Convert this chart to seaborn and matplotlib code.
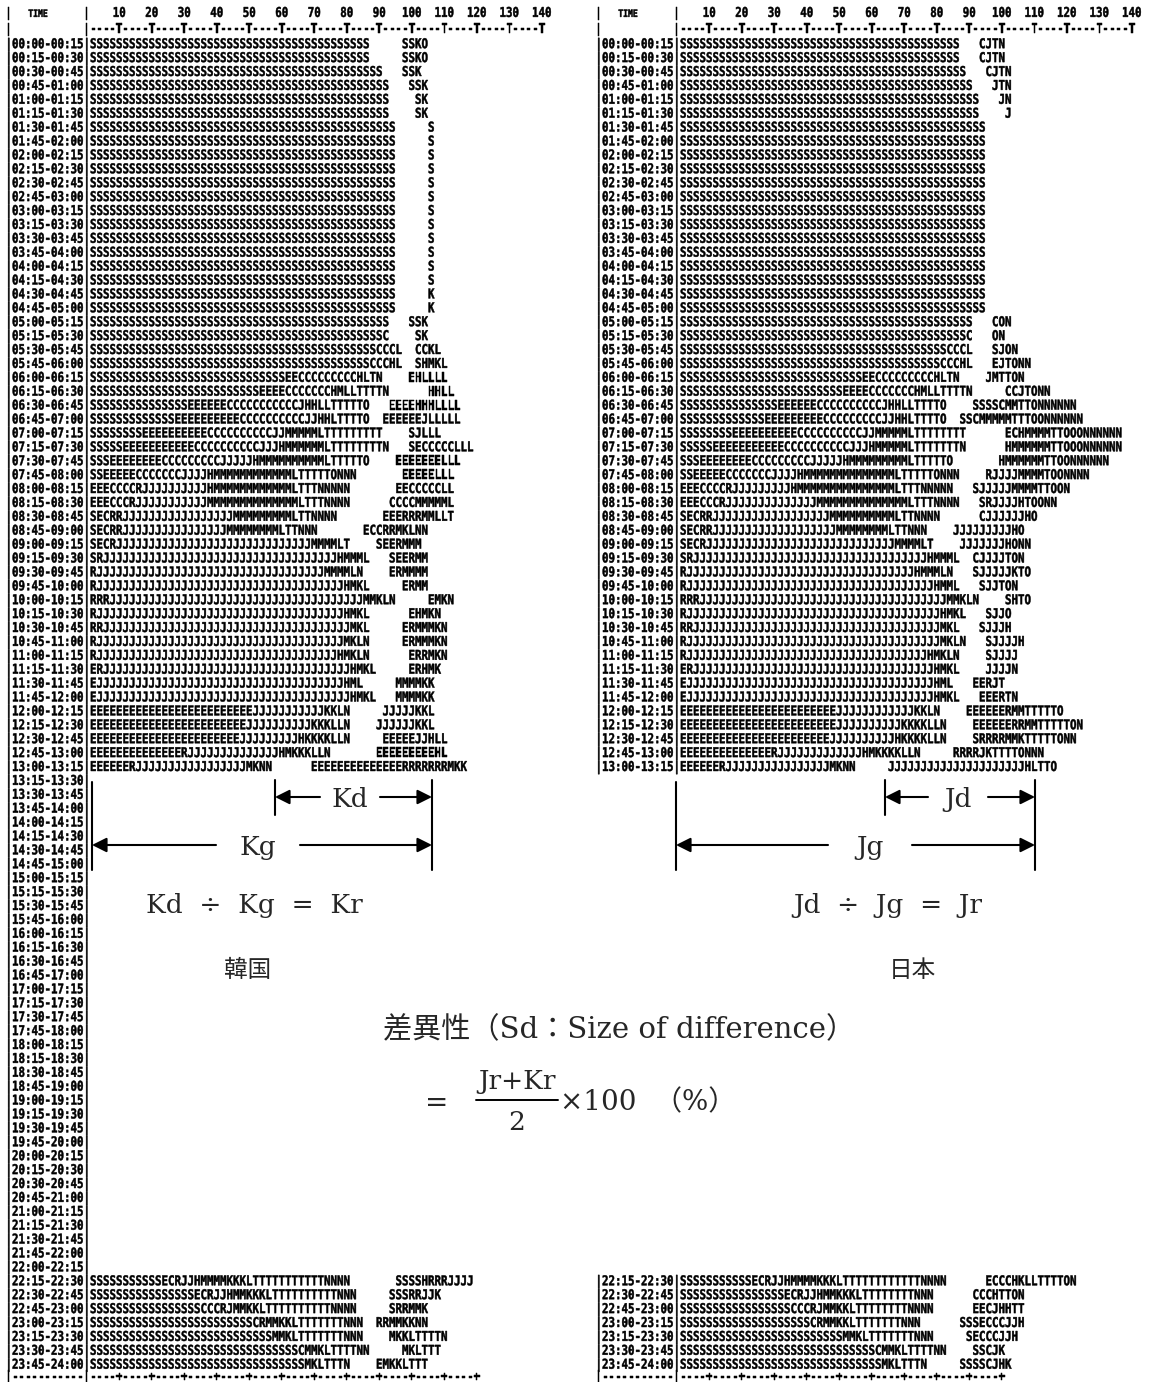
import matplotlib
matplotlib.use("Agg")
import matplotlib.pyplot as plt
import seaborn as sns
from matplotlib.patheffects import AbstractPathEffect
from matplotlib.transforms import Affine2D

# ---------------- data ----------------
# 15-minute time slots of the day
slots = [f"{h:02d}:{m:02d}" for h in range(25) for m in (0, 15, 30, 45)][:97]
time_labels = [f"|{slots[i]}-{slots[i + 1]}|" for i in range(96)]

header_ticks = [10, 20, 30, 40, 50, 60, 70, 80, 90, 100, 110, 120, 130, 140]

# Korea: rows 00:00 .. 13:00 (run-length: "S43" = 43 x S)
k_main = [
    "S43", "S43", "S45", "S46", "S46", "S46",
    "S47", "S47", "S47", "S47", "S47", "S47", "S47", "S47", "S47", "S47", "S47", "S47", "S47", "S47",
    "S46", "S45 C", "S44 CCCL", "S43 CCCHL",
    "S30 EE C9 HLTN", "S26 EEEE C7 HMLLTTTTN", "S15 E6 C11 JHHLL T5 O", "S13 E10 C10 JJHHL T4 O",
    "S8 E10 C10 JJ M5 L T9", "S5 E11 C10 JJJH M6 L T8 N", "SSS E8 C9 J5 H M10 L T5 O", "SS E5 C7 J4 H M12 L T5 ONNN",
    "EEE C4 R J10 H M12 L TTT N5", "EEE CCC R J11 M14 L TTT NNNN", "SECRR J17 M9 L TT NNNN", "SECRR J16 M8 L TT NNN",
    "SECR J30 MMMMLT", "SR J36 HMMML", "R J35 MMMMLN", "R J38 HMKL",
    "RRR J39 MMKLN", "R J38 HMKL", "RR J38 MKL", "R J38 MKLN",
    "R J37 HMKLN", "ER J38 HMKL", "E J38 HML", "E J39 HMKL",
    "E25 J11 KKLN", "E24 J10 KKKLLN", "E23 J9 HKKKKLLN", "E14 R J14 HMKKKLLN",
    "E6 R J17 MKNN",
]
k_extra = [
    "SSKO", "SSKO", "SSK", "SSK", "SK", "SK",
    "S", "S", "S", "S", "S", "S", "S", "S", "S", "S", "S", "S", "K", "K",
    "SSK", "SK", "CCKL", "SHMKL",
    "EHLLLL", "HHLL", "EEEEHHHLLLL", "EEEEEEJLLLLL",
    "SJLLL", "SECCCCCLLL", "EEEEEEELLL", "EEEEELLL",
    "EECCCCCLL", "CCCCMMMMML", "EEERRRMMLLT", "ECCRRMKLNN",
    "SEERMMM", "SEERMM", "ERMMMM", "ERMM",
    "EMKN", "EHMKN", "ERMMMKN", "ERMMMKN",
    "ERRMKN", "ERHMK", "MMMMKK", "MMMMKK",
    "JJJJJKKL", "JJJJJJKKL", "EEEEEJJHLL", "EEEEEEEEEHL",
    "E14 R7 MKK",
]
k_extra_col = [48, 48, 48, 49, 50, 50] + [52] * 14 + [
    49, 50, 50, 50, 49, 52, 46, 45, 49, 49, 47, 48, 47, 46, 45, 42,
    44, 46, 46, 48, 52, 49, 48, 48, 49, 49, 47, 47, 45, 44, 45, 44, 34]

# Korea: rows 22:15 .. 23:45
k_late_main = ["S11 ECRJJHMMMMKKKL T11 NNNN", "S16 ECRJJHMMKKKL T10 NNN", "S17 CCCRJMMKKL T10 NNNN",
               "S25 CRMMKKL T7 NNN", "S28 MMKL T7 NNN", "S32 CMMKL TTTT NN", "S33 MKLTTTN"]
k_late_extra = ["SSSSHRRRJJJJ", "SSSRRJJK", "SRRMMK", "RRMMKKNN", "MKKLTTTTN", "MKLTTT", "EMKKLTTT"]
k_late_col = [47, 46, 46, 44, 46, 48, 44]

# Japan: rows 00:00 .. 13:00
j_main = [
    "S43", "S43", "S44", "S45", "S46", "S46",
    "S47", "S47", "S47", "S47", "S47", "S47", "S47", "S47", "S47", "S47", "S47", "S47", "S47", "S47",
    "S45", "S44 C", "S41 CCCL", "S40 CCCHL",
    "S28 EE C9 HLTN", "S25 EEEE C7 HMLLTTTTN", "S15 E6 C10 JHHLL TTTT O", "S13 E9 C9 JJHHL TTTT O",
    "S8 E10 C10 JJ M5 L T8", "S5 E11 C10 JJJH M5 L T7 N", "SSS E8 C9 J5 H M9 L T5 O", "SS E5 C7 J4 H M14 L T5 ONNN",
    "EEE C4 R J9 H M15 L TTT N5", "EEE CCC R J14 M14 L TTT NNNN", "SECRR J18 M10 L TT NNNN", "SECRR J19 M8 L TT NNN",
    "SECR J29 MMMMLT", "SR J36 HMMML", "R J35 HMMMLN", "R J38 HMML",
    "RRR J38 MMKLN", "R J39 HMKL", "RR J38 MKL", "R J39 MKLN",
    "R J37 HMKLN", "ER J37 HMKL", "E J38 HML", "E J38 HMKL",
    "E24 J12 KKLN", "E24 J10 KKKKLLN", "E23 J10 HKKKKLLN", "E14 R J13 HMKKKKLLN",
    "E6 R J16 MKNN",
]
j_extra = [
    "CJTN", "CJTN", "CJTN", "JTN", "JN", "J",
    "", "", "", "", "", "", "", "", "", "", "", "", "", "",
    "CON", "ON", "SJON", "EJTONN",
    "JMTTON", "CCJTONN", "SSSSCMMTTONNNNNN", "SSCMMMMMTTTOONNNNNN",
    "ECHMMMMTTOOONNNNNN", "HMMMMMMTTOOONNNNNN", "HMMMMMMTTOONNNNNN", "RJJJJMMMMTOONNNN",
    "SJJJJJMMMMTTOON", "SRJJJJHTOONN", "CJJJJJJHO", "JJJJJJJJJHO",
    "JJJJJJJHONN", "CJJJJTON", "SJJJJJKTO", "SJJTON",
    "SHTO", "SJJO", "SJJJH", "SJJJJH",
    "SJJJJ", "JJJJN", "EERJT", "EEERTN",
    "EEEEEERMMTTTTTO", "EEEEEERRMMTTTTTON", "SRRRRMMKTTTTTONN", "RRRRJKTTTTONNN",
    "J21 HLTTO",
]
j_extra_col = [46, 46, 47, 48, 49, 50] + [0] * 14 + [
    48, 48, 48, 48, 47, 50, 45, 43, 50, 50, 49, 47, 45, 46, 46, 42,
    43, 45, 45, 46, 50, 47, 46, 47, 47, 47, 45, 46, 44, 45, 45, 42, 32]

# Japan: rows 22:15 .. 23:45
j_late_main = ["S11 ECRJJHMMMMKKKL T12 NNNN", "S16 ECRJJHMMKKKL T8 NNN", "S17 CCCRJMMKKL T8 NNNN",
               "S20 CRMMKKL T7 NNN", "S25 MMKL T7 NNN", "S30 CMMKL TTTT NN", "S31 MKLTTTN"]
j_late_extra = ["ECCCHKLLTTTTON", "CCCHTTON", "EECJHHTT", "SSSECCCJJH", "SECCCJJH", "SSCJK", "SSSSCJHK"]
j_late_col = [47, 45, 45, 43, 44, 45, 43]


def expand(code):
    out = ""
    for tok in code.split():
        if len(tok) > 1 and tok[1:].isdigit():
            out += tok[0] * int(tok[1:])
        else:
            out += tok
    return out


class PrinterInk(AbstractPathEffect):
    """Stretch glyphs vertically and thicken them, like line-printer output."""

    def __init__(self, sy=1.25, lw=0.35):
        super().__init__()
        self._sy = sy
        self._lw = lw

    def draw_path(self, renderer, gc, tpath, affine, rgbFace=None):
        gc0 = renderer.new_gc()
        gc0.copy_properties(gc)
        gc0.set_linewidth(self._lw)
        gc0.set_foreground("black")
        renderer.draw_path(gc0, tpath, Affine2D().scale(1, self._sy) + affine, rgbFace)
        gc0.restore()


# ---------------- layout ----------------
W, H, DPI = 1161, 1382, 100
PITCH = 6.5          # px per character column
ROW0, ROWH = 44, 13.9  # px of first row, px per row
MONO = "DejaVu Sans Mono"
FS = PITCH / 0.602 * 72 / DPI
INK = [PrinterInk()]

sns.set_theme(style="white")
plt.rcParams["font.family"] = ["DejaVu Sans", "Noto Sans CJK JP"]

fig = plt.figure(figsize=(W / DPI, H / DPI), dpi=DPI)
fig.patch.set_facecolor("white")


def panel(col0_px, left_px, right_px, main, extra, extra_col, late_main, late_extra, late_col,
          mid_labels, n_bottom_ticks):
    ax = fig.add_axes([left_px / W, 0, (right_px - left_px) / W, 1])
    ax.set_xlim((left_px - col0_px) / PITCH, (right_px - col0_px) / PITCH)
    ax.set_ylim((H - ROW0) / ROWH, -ROW0 / ROWH)
    ax.axis("off")
    kw = dict(family=MONO, weight="bold", fontsize=FS, va="baseline", ha="left",
              color="black", path_effects=INK)
    dy = 0.3  # baseline offset below the row centre

    # header
    ax.text(-13, -2.25 + dy, "|", **kw)
    ax.text(-9.5, -2.25 + dy, "TIME", **{**kw, "fontsize": FS * 0.75})
    ax.text(-1, -2.25 + dy, "|", **kw)
    for v in header_ticks:
        ax.text(v / 10 * 5 - 0.5, -2.25 + dy, str(v), **{**kw, "ha": "center"})
    ax.text(-13, -1.1 + dy, "|", **kw)
    ax.text(-1, -1.1 + dy, "|" + "----T" * len(header_ticks), **kw)

    # early rows
    for i, (m, e, c) in enumerate(zip(main, extra, extra_col)):
        ax.text(-13, i + dy, time_labels[i] + expand(m), **kw)
        if e:
            ax.text(c, i + dy, expand(e), **kw)
    # empty middle rows
    if mid_labels:
        for i in range(len(main), 96 - len(late_main)):
            ax.text(-13, i + dy, time_labels[i], **kw)
    # late rows
    start = 96 - len(late_main)
    for k, (m, e, c) in enumerate(zip(late_main, late_extra, late_col)):
        ax.text(-13, start + k + dy, time_labels[start + k] + expand(m), **kw)
        ax.text(c, start + k + dy, expand(e), **kw)
    ax.text(-13, 95.85 + dy, "|" + "-" * 11 + "|" + "----+" * n_bottom_ticks, **kw)
    return ax


panel(90, 0, 585, k_main, k_extra, k_extra_col, k_late_main, k_late_extra, k_late_col, True, 12)
panel(680, 585, W, j_main, j_extra, j_extra_col, j_late_main, j_late_extra, j_late_col, False, 10)

# ---------------- annotation layer ----------------
ov = fig.add_axes([0, 0, 1, 1])
ov.set_xlim(0, W)
ov.set_ylim(H, 0)
ov.axis("off")
ov.patch.set_alpha(0)

SERIF = ["DejaVu Serif", "Noto Sans CJK JP"]
CJK = ["Noto Sans CJK JP"]
arrow = dict(arrowstyle="-|>", color="black", lw=1.5, mutation_scale=22, shrinkA=0, shrinkB=0)


def dim(x_left, x_right, y, label, lx, gap):
    ov.annotate("", xy=(x_left, y), xytext=(lx - gap, y), arrowprops=arrow)
    ov.annotate("", xy=(x_right, y), xytext=(lx + gap, y), arrowprops=arrow)
    ov.text(lx, y + 2, label, family=SERIF, fontsize=19, ha="center", va="center")


def vline(x, y1, y2):
    ov.plot([x, x], [y1, y2], color="black", lw=1.5)


# Korea brackets
vline(275, 780, 815)
vline(432, 780, 870)
vline(92, 782, 870)
dim(275, 432, 797, "Kd", 350, 30)
dim(92, 432, 845, "Kg", 258, 42)
# Japan brackets
vline(885, 780, 815)
vline(1035, 780, 870)
vline(676, 782, 870)
dim(885, 1035, 797, "Jd", 958, 30)
dim(676, 1035, 845, "Jg", 870, 42)

ov.text(146, 905, "Kd  ÷  Kg  =  Kr", family=SERIF, fontsize=19, ha="left", va="center")
ov.text(793, 905, "Jd  ÷  Jg  =  Jr", family=SERIF, fontsize=19, ha="left", va="center")
ov.text(248, 970, "韓国", family=CJK, fontsize=17, ha="center", va="center")
ov.text(912, 970, "日本", family=CJK, fontsize=17, ha="center", va="center")
ov.text(383, 1030, "差異性（Sd：Size of difference）", family=SERIF, fontsize=21,
        ha="left", va="center")
ov.text(425, 1103, "=", family=SERIF, fontsize=20, ha="left", va="center")
ov.text(517, 1082, "Jr+Kr", family=SERIF, fontsize=19, ha="center", va="center")
ov.plot([476, 558], [1100, 1100], color="black", lw=1.4)
ov.text(517, 1123, "2", family=SERIF, fontsize=19, ha="center", va="center")
ov.text(560, 1103, "×100  （%）", family=SERIF, fontsize=20, ha="left", va="center")

fig.savefig("out.png", dpi=DPI, facecolor="white")
